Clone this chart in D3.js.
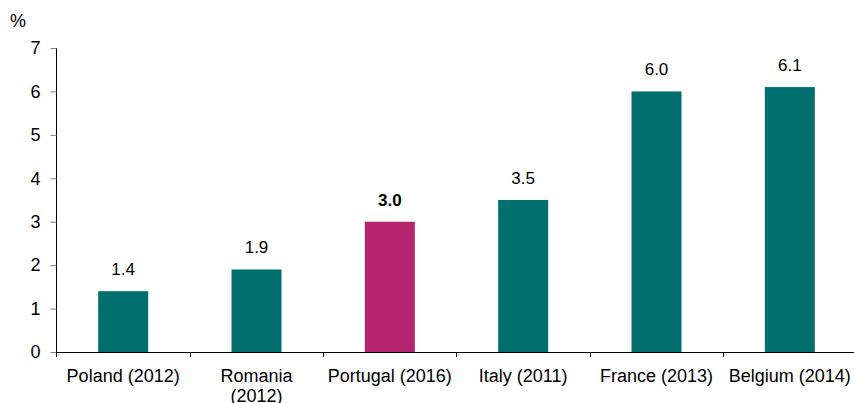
<!DOCTYPE html>
<html>
<head>
    <meta charset="utf-8">
    <script src="https://d3js.org/d3.v7.min.js"></script>
    <style>
        body { margin: 0; background: #fff; }
        text { font-family: "Liberation Sans", Arial, sans-serif; fill: #000; }
    </style>
</head>
<body>
    <script>
        var categories = ["Poland (2012)", "Romania (2012)", "Portugal (2016)", "Italy (2011)", "France (2013)", "Belgium (2014)"];
        var values = [1.4, 1.9, 3.0, 3.5, 6.0, 6.1];
        var highlight = ["Portugal (2016)"];
        var yTicks = [0, 1, 2, 3, 4, 5, 6, 7];

        var width = 854, height = 403;
        var teal = "#006f6e", magenta = "#b5246e";

        var svg = d3.select("body").append("svg")
            .attr("width", width)
            .attr("height", height);

        var x = d3.scaleBand()
            .domain(categories)
            .range([56.5, 856.5])
            .paddingInner(0.625)
            .paddingOuter(0.3125);

        var y = d3.scaleLinear()
            .domain([0, 7])
            .range([352, 48]);

        // bars
        svg.append("g")
            .selectAll("rect")
            .data(categories)
            .enter().append("rect")
            .attr("x", d => x(d))
            .attr("width", x.bandwidth())
            .attr("y", (d, i) => y(values[i]))
            .attr("height", (d, i) => y(0) - y(values[i]))
            .style("fill", d => highlight.includes(d) ? magenta : teal);

        // value labels
        svg.append("g")
            .selectAll("text")
            .data(categories)
            .enter().append("text")
            .attr("x", d => x(d) + x.bandwidth() / 2)
            .attr("y", (d, i) => y(values[i]) - 16)
            .attr("text-anchor", "middle")
            .style("font-size", "17px")
            .style("font-weight", d => highlight.includes(d) ? "bold" : "normal")
            .text((d, i) => values[i].toFixed(1));

        // y axis
        var yAxis = svg.append("g")
            .attr("transform", "translate(56.5,0)")
            .call(d3.axisLeft(y).tickValues(yTicks).tickFormat(d3.format("d")).tickSize(6).tickPadding(10));
        yAxis.select(".domain").attr("stroke", "#000").attr("d", "M0," + y(7) + "V" + y(0));
        yAxis.selectAll(".tick line").attr("stroke", "#808080");
        yAxis.selectAll(".tick text").style("font-size", "18px").attr("fill", "#000");

        // x axis
        var xg = svg.append("g");
        xg.append("line")
            .attr("x1", 56.5).attr("x2", width)
            .attr("y1", y(0) + 0.5).attr("y2", y(0) + 0.5)
            .attr("stroke", "#000");
        xg.selectAll(".xtick")
            .data(categories)
            .enter().append("line")
            .attr("x1", d => Math.round(x(d) - x.step() * x.paddingOuter()) + 0.5)
            .attr("x2", d => Math.round(x(d) - x.step() * x.paddingOuter()) + 0.5)
            .attr("y1", y(0)).attr("y2", y(0) + 5)
            .attr("stroke", "#000");

        // category labels, wrapped when wider than the band allows
        xg.selectAll(".xlabel")
            .data(categories)
            .enter().append("text")
            .attr("x", d => x(d) + x.bandwidth() / 2)
            .attr("y", 382)
            .attr("text-anchor", "middle")
            .style("font-size", "18px")
            .each(function(d) {
                var el = d3.select(this);
                el.text(d);
                if (this.getComputedTextLength() > x.step() - 8) {
                    el.text(null);
                    var parts = d.split(" ");
                    var last = parts.pop();
                    el.append("tspan").attr("x", x(d) + x.bandwidth() / 2).text(parts.join(" "));
                    el.append("tspan").attr("x", x(d) + x.bandwidth() / 2).attr("dy", 20).text(last);
                }
            });

        svg.append("text")
            .attr("x", 10)
            .attr("y", 27)
            .style("font-size", "18px")
            .text("%");
    </script>
</body>
</html>
